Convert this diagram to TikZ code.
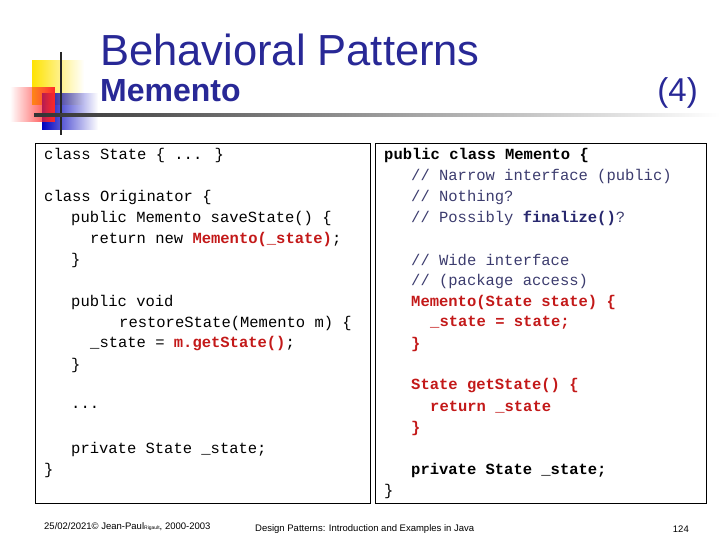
\documentclass[tikz,border=0pt]{standalone}
\usepackage{fontspec}
\setmainfont{Liberation Sans}
\newfontfamily\codefont{Liberation Mono}
\usetikzlibrary{fadings}
\definecolor{titleblue}{RGB}{40,40,150}
\definecolor{codered}{RGB}{195,25,25}
\definecolor{cmtblue}{RGB}{60,60,110}
\definecolor{fnblue}{RGB}{40,40,110}
\begin{document}
\begin{tikzpicture}[x=1pt,y=-1pt,
  code/.style={anchor=west,inner sep=0pt,font=\codefont\fontsize{15.5}{18}\selectfont},
  redcode/.style={code,text=codered,font=\codefont\bfseries\fontsize{15.5}{18}\selectfont},
  box/.style={draw,line width=1pt},
  foot/.style={inner sep=0pt,font=\fontsize{9.5}{11}\selectfont}]
\useasboundingbox (0,0) rectangle (720,540);
% logo
\fill[yellow!85!orange,path fading=east] (32,60) rectangle (84,105);
\fill[blue!75!black,path fading=east] (42,93) rectangle (98,130);
\fill[red!85,path fading=west] (10,87) rectangle (55,122);
\draw[line width=2pt,black!85] (61,52) -- (61,135);
\fill[left color=black!80,right color=white] (34,113.5) rectangle (720,116.5);
% titles
\node[anchor=west,inner sep=0pt,text=titleblue,font=\fontsize{43.5}{46}\selectfont] (t1) at (100,50) {Behavioral Patterns};
\node[anchor=west,inner sep=0pt,text=titleblue,font=\bfseries\fontsize{32}{36}\selectfont] (t2) at (100,91) {Memento};
\node[anchor=east,inner sep=0pt,text=titleblue,font=\fontsize{33}{36}\selectfont] (t3) at (698,93) {(4)};
% boxes
\node[box,minimum width=335,minimum height=360,anchor=north west,inner sep=0] (lb) at (35,143) {};
\node[box,minimum width=331,minimum height=360,anchor=north west,inner sep=0] (rb) at (375,143) {};
% left code
\node[code] (l1) at (44,155) {class State \{ ... \}};
\node[code] (l2) at (44,197) {class Originator \{};
\node[code] (l3) at (71,218) {public Memento saveState() \{};
\node[code] (l4) at (90,239) {return new \textcolor{codered}{\textbf{Memento(\_state)}};};
\node[code] (l5) at (71,260) {\}};
\node[code] (l6) at (71,302) {public void};
\node[code] (l7) at (119,323) {restoreState(Memento m) \{};
\node[code] (l8) at (90,344) {\_state = \textcolor{codered}{\textbf{m.getState()}};};
\node[code] (l9) at (71,365) {\}};
\node[code] (l10) at (71,407) {...};
\node[code] (l11) at (71,449) {private State \_state;};
\node[code] (l12) at (44,470) {\}};
% right code
\node[code] (r1) at (384,155) {\textbf{public class Memento \{}};
\node[code,text=cmtblue] (r2) at (411,176) {// Narrow interface (public)};
\node[code,text=cmtblue] (r3) at (411,197) {// Nothing?};
\node[code,text=cmtblue] (r4) at (411,218) {// Possibly \textcolor{fnblue}{\textbf{finalize()}}?};
\node[code,text=cmtblue] (r5) at (411,260) {// Wide interface};
\node[code,text=cmtblue] (r6) at (411,281) {// (package access)};
\node[redcode] (r7) at (411,302) {Memento(State state) \{};
\node[redcode] (r8) at (430,323) {\_state = state;};
\node[redcode] (r9) at (411,344) {\}};
\node[redcode] (r10) at (411,386) {State getState() \{};
\node[redcode] (r11) at (430,407) {return \_state};
\node[redcode] (r12) at (411,428) {\}};
\node[code] (r13) at (411,470) {\textbf{private State \_state;}};
\node[code] (r14) at (384,491) {\}};
% footer
\node[foot,anchor=west] (f1) at (44,527) {25/02/2021© Jean-Paul{\fontsize{5}{6}\selectfont Rigault}, 2000-2003};
\node[foot,anchor=west] (f2) at (255,529) {Design Patterns: Introduction and Examples in Java};
\node[foot,anchor=east] (f3) at (689,529) {124};
\end{tikzpicture}
\end{document}
